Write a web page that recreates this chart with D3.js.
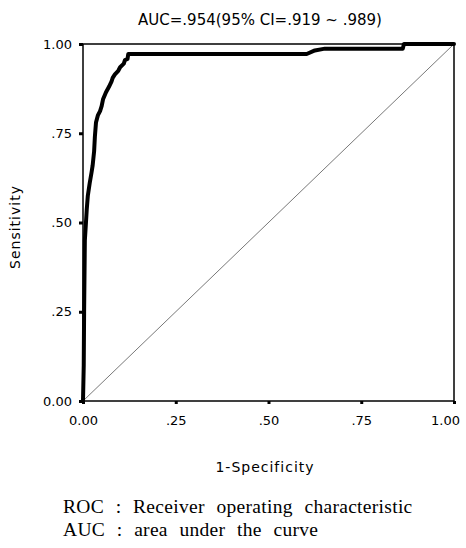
<!DOCTYPE html>
<html><head><meta charset="utf-8">
<script src="https://cdn.jsdelivr.net/npm/d3@7"></script>
<style>body{margin:0;background:#fff}svg{display:block}</style>
</head><body>
<svg id="c" width="466" height="548"></svg>
<script>
const titleText = "AUC=.954(95% CI=.919 ~ .989)";
const xTicks = [0, 0.25, 0.5, 0.75, 1];
const xTickLabels = ["0.00", ".25", ".50", ".75", "1.00"];
const yTicks = [0, 0.25, 0.5, 0.75, 1];
const yTickLabels = ["0.00", ".25", ".50", ".75", "1.00"];
const fpr = [0, 0.002, 0.003, 0.005, 0.008, 0.010, 0.013, 0.018, 0.023, 0.026, 0.030, 0.032, 0.035, 0.040, 0.046, 0.050, 0.054, 0.062, 0.070, 0.077, 0.080, 0.086, 0.095, 0.100, 0.110, 0.113, 0.120, 0.122, 0.30, 0.603, 0.625, 0.652, 0.80, 0.862, 0.865, 1.0];
const tpr = [0, 0.10, 0.25, 0.45, 0.50, 0.535, 0.575, 0.61, 0.64, 0.66, 0.70, 0.74, 0.78, 0.80, 0.812, 0.825, 0.845, 0.865, 0.88, 0.895, 0.905, 0.915, 0.925, 0.935, 0.945, 0.955, 0.958, 0.972, 0.972, 0.972, 0.982, 0.987, 0.987, 0.987, 1.0, 1.0];
const footLines = ["ROC : Receiver operating characteristic", "AUC : area under the curve"];

const svg = d3.select("#c");
const L = 83, R = 454, T = 44, B = 401;
const x = d3.scaleLinear().domain([0, 1]).range([L, R]);
const y = d3.scaleLinear().domain([0, 1]).range([B, T]);
const sans = "'DejaVu Sans', sans-serif";

svg.append("text").attr("x", 260).attr("y", 25).attr("text-anchor", "middle")
  .attr("font-family", sans).attr("font-size", 15).text(titleText);

// diagonal reference
svg.append("line").attr("x1", x(0)).attr("y1", y(0)).attr("x2", x(1)).attr("y2", y(1))
  .attr("stroke", "#555").attr("stroke-width", 0.8);

// frame
svg.append("rect").attr("x", L).attr("y", T).attr("width", R - L).attr("height", B - T)
  .attr("fill", "none").attr("stroke", "#000").attr("stroke-width", 1.5);

// axes
const xAxis = d3.axisBottom(x).tickValues(xTicks).tickFormat((d, i) => xTickLabels[i]).tickSize(3).tickPadding(12);
const gx = svg.append("g").attr("transform", `translate(0,${B})`).call(xAxis);
const yAxis = d3.axisLeft(y).tickValues(yTicks).tickFormat((d, i) => yTickLabels[i]).tickSize(4).tickPadding(7);
const gy = svg.append("g").attr("transform", `translate(${L},0)`).call(yAxis);
[gx, gy].forEach(g => {
  g.select(".domain").remove();
  g.selectAll(".tick line").attr("stroke", "#000").attr("stroke-width", 3);
  g.selectAll(".tick text").attr("font-family", sans).attr("font-size", 13).attr("fill", "#000");
});
gx.selectAll(".tick text").filter((d, i) => i === 4).attr("dx", -9);

// ROC curve
const line = d3.line().x((d, i) => x(fpr[i])).y((d, i) => y(tpr[i]));
svg.append("path").datum(fpr).attr("d", line).attr("fill", "none")
  .attr("stroke", "#000").attr("stroke-width", 4).attr("stroke-linejoin", "round").attr("stroke-linecap", "round");

// axis titles
svg.append("text").attr("x", 265).attr("y", 472).attr("text-anchor", "middle")
  .attr("font-family", sans).attr("font-size", 14).attr("letter-spacing", 1).text("1-Specificity");
svg.append("text").attr("transform", "translate(20,227) rotate(-90)").attr("text-anchor", "middle")
  .attr("font-family", sans).attr("font-size", 14).attr("letter-spacing", 1).text("Sensitivity");

// footnotes
footLines.forEach((t, i) => {
  svg.append("text").attr("x", 63).attr("y", 513 + i * 23)
    .attr("font-family", "'Liberation Serif', 'Times New Roman', serif").attr("font-size", 19.5)
    .attr("letter-spacing", 0.3).attr("word-spacing", 6.5).text(t);
});
</script>
</body></html>
